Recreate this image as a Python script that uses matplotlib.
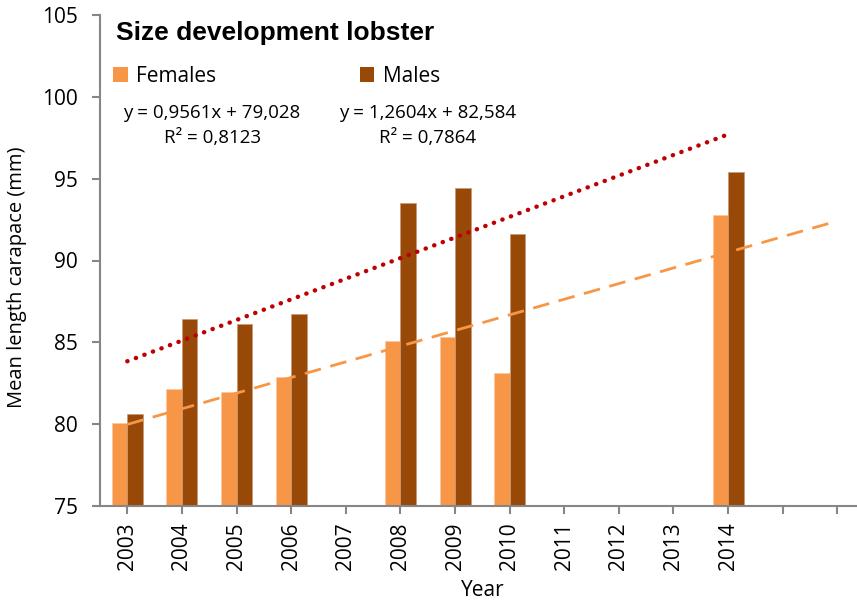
import numpy as np
import matplotlib
matplotlib.use("Agg")
import matplotlib.pyplot as plt
from matplotlib.patches import Patch

# Mean carapace length per survey year (mm); empty years have no sample
years = ['2003', '2004', '2005', '2006', '2007', '2008', '2009', '2010',
         '2011', '2012', '2013', '2014']
females = [80.1, 82.16, 81.94, 82.88, np.nan, 85.1, 85.3, 83.1,
           np.nan, np.nan, np.nan, 92.75]
males = [80.6, 86.43, 86.12, 86.75, np.nan, 93.53, 94.44, 91.6,
         np.nan, np.nan, np.nan, 95.4]

# Linear trendlines (x = year index starting at 1)
fem_slope, fem_icpt, fem_r2 = 0.9561, 79.028, 0.8123
mal_slope, mal_icpt, mal_r2 = 1.2604, 82.584, 0.7864
fem_forecast = 2   # female trend projected two periods ahead

c_fem = '#F79646'
c_mal = '#984807'
c_mal_trend = '#C00000'
c_axis = '#868686'

plt.rcParams['font.family'] = ['Open Sans', 'DejaVu Sans']

W, H = 857, 600
fig = plt.figure(figsize=(W / 100, H / 100), dpi=100)
ax = fig.add_axes([100 / W, 94 / H, (W - 100) / W, (506 - 15) / H])

x = np.arange(1, len(years) + 1)
bw = 0.284
ax.bar(x - bw / 2, females, bw, color=c_fem, edgecolor='#FBC8A0', linewidth=0.5, zorder=2)
ax.bar(x + bw / 2, males, bw, color=c_mal, edgecolor='#C89A78', linewidth=0.5, zorder=2)

xf = np.array([1, len(years) + fem_forecast])
ax.plot(xf, fem_slope * xf + fem_icpt, color=c_fem, lw=2, dashes=(6, 3.5), zorder=3)
xm = np.array([1, len(years)])
ax.plot(xm, mal_slope * xm + mal_icpt, color=c_mal_trend, lw=3.2,
        linestyle=(0, (0.05, 2.0)), dash_capstyle='round', zorder=3)

ax.set_ylim(75, 105)
ax.set_yticks(np.arange(75, 106, 5))
ax.set_xlim(0.5, 14.36)
ax.set_xticks(np.arange(1, 15))
ax.set_xticklabels(years + ['', ''], rotation=90)

for side in ['top', 'right']:
    ax.spines[side].set_visible(False)
for side in ['left', 'bottom']:
    ax.spines[side].set_color(c_axis)
    ax.spines[side].set_linewidth(1.5)
ax.tick_params(axis='both', colors=c_axis, width=1.5, length=6, labelcolor='black',
               labelsize=15)
ax.tick_params(axis='y', pad=10)
ax.tick_params(axis='x', pad=6)

ax.set_ylabel('Mean length carapace (mm)', fontsize=14.5)
ax.yaxis.set_label_coords(-0.0964, 0.465)
ax.set_xlabel('Year', fontsize=15)
ax.xaxis.set_label_coords(0.506, -0.15)

fig.text(116 / W, 1 - 33 / H, 'Size development lobster', fontsize=19,
         fontweight='bold', family='Liberation Sans', va='center', ha='left')

handles = [Patch(facecolor=c_fem, label='Females'), Patch(facecolor=c_mal, label='Males')]
ax.legend(handles=handles, ncol=2, loc='center left', frameon=False,
          bbox_to_anchor=(113 / W, 1 - 76 / H), bbox_transform=fig.transFigure,
          fontsize=15, handlelength=0.7, handleheight=0.7, handletextpad=0.4,
          columnspacing=6.9, borderaxespad=0, borderpad=0)

def eq(slope, icpt):
    return 'y = ' + f'{slope:.4f}x + {icpt:.3f}'.replace('.', ',')

eq_size = 13.5
fig.text(212 / W, 1 - 113 / H, eq(fem_slope, fem_icpt), fontsize=eq_size, ha='center', va='center')
fig.text(213 / W, 1 - 138 / H, f'R² = {fem_r2:.4f}'.replace('.', ','), fontsize=eq_size,
         ha='center', va='center')
fig.text(428 / W, 1 - 113 / H, eq(mal_slope, mal_icpt), fontsize=eq_size, ha='center', va='center')
fig.text(428 / W, 1 - 138 / H, f'R² = {mal_r2:.4f}'.replace('.', ','), fontsize=eq_size,
         ha='center', va='center')

fig.savefig('out.png', dpi=100)
